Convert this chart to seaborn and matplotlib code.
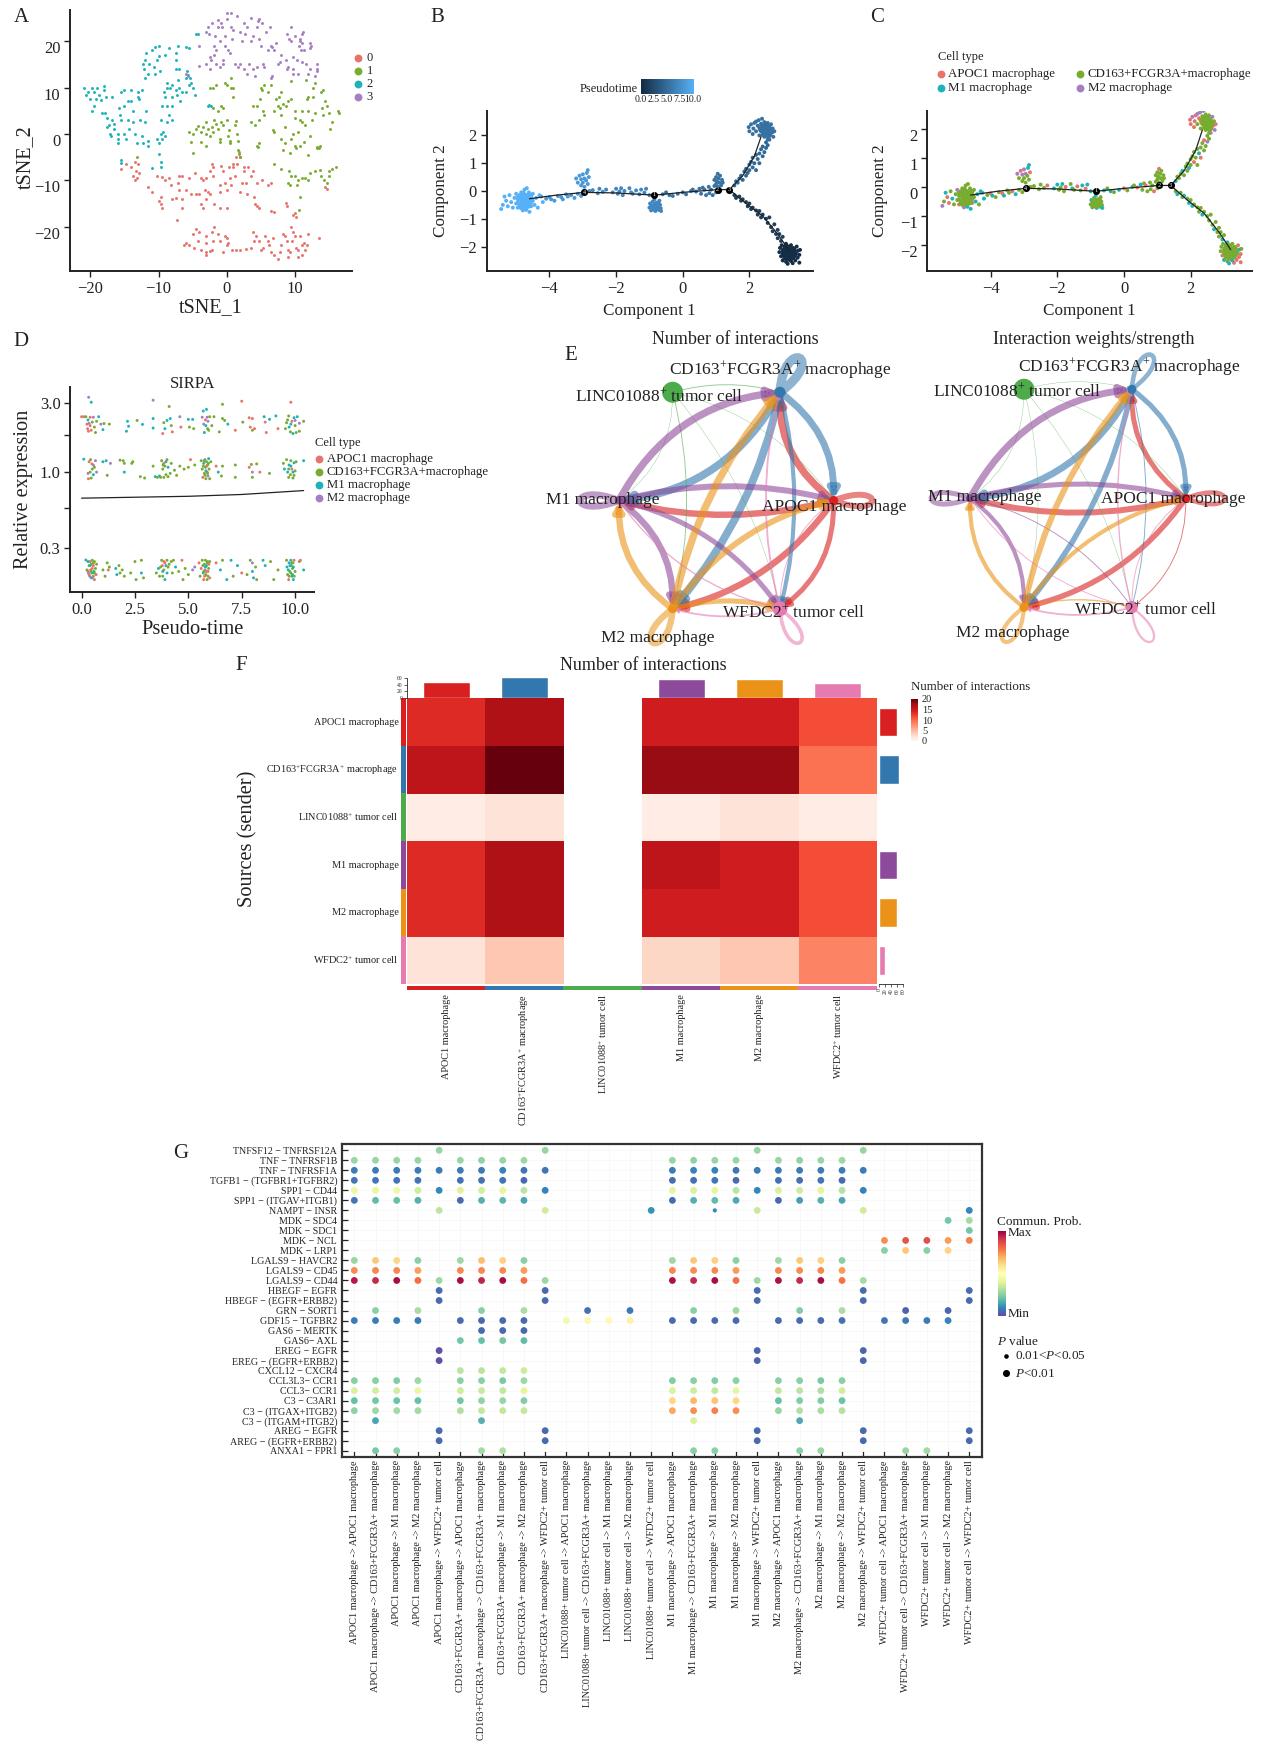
import numpy as np
import pandas as pd
import matplotlib
matplotlib.use("Agg")
import matplotlib.pyplot as plt
import seaborn as sns
from matplotlib.colors import LinearSegmentedColormap, ListedColormap
from matplotlib.patches import FancyArrowPatch, PathPatch
from matplotlib.path import Path

W, H = 1271, 1748

# ---- panel A, tSNE points per cluster
tsne_0 = [(-15.5,-7.5),(-14.8,-6.5),(-14,-7),(-13.5,-6),(-13,-6.5),(-13.3,-8),(-13.8,-9),(-13.2,-9.5),(-12.8,-8.5),(-13.5,-10),(-11.5,-11.5),(-11,-12.5),(-10.2,-9),(-9.5,-9.2),(-9.7,-13.5),(-10,-14.5),(-9.6,-15),(-9.5,-16),(-9,-10),(-8.5,-9.5),(-8.2,-11),(-8,-14),(-7.5,-13.8),(-7,-9),(-7.2,-10.5),(-7,-12),(-6.5,-14),(-6.5,-16),(-7.3,-18.5),(-6,-12),(-6.5,-9),(-5.5,-9.5),(-5.2,-13),(-4.5,-13),(-4.6,-8.5),(-3.8,-9.5),(-4,-13),(-3.8,-15),(-3.5,-16),(-3.5,-10),(-3,-9.5),(-3.2,-12),(-3,-14),(-2.7,-12.5),(-2.5,-8),(-2,-7),(-2.2,-6.5),(-2,-9),(-2.5,-13),(-1.8,-15),(-1,-11),(-1,-12.5),(-1,-16),(-0.8,-6.8),(-0.5,-8),(-0.3,-10.5),(0,-12),(0,-16),(0.3,-7),(0.5,-9.5),(0.6,-11),(0.9,-6.5),(1,-7),(1.2,-9),(1.3,-5),(1.5,-6.5),(1.8,-3.8),(2,-5),(2.2,-10.5),(2,-12.5),(2.5,-8),(2.6,-7),(2.8,-10.5),(3,-13),(3.2,-7),(3.5,-9),(3.8,-8),(4,-13.5),(4.2,-15),(4.5,-10.5),(4.5,-15.5),(4.7,-16),(5.2,-10),(6,-11),(6.5,-10.5),(6.5,-16.5),(7,-16.8),(8.7,-14.8),(8.9,-15.5),(9.7,-17.5),(10,-17),(10.2,-17.8),(14.5,-11.5),(14.8,-11.8),
          (-6.3,-23.8),(-6,-23.5),(-5.5,-24),(-5,-21.5),(-4.5,-20.5),(-4.8,-24.5),(-4,-21),(-4.2,-23),(-3.8,-25),(-3,-22),(-3,-23.5),(-3,-25.5),(-3,-26),(-2.5,-25.2),(-2.2,-25),(-2.2,-21),(-2,-23),(-1.8,-20),(-1.2,-21.5),(-1,-23),(-0.5,-25.5),(-.3,-22),(0,-22.5),(0,-24),(.2,-23.5),(.8,-25),(1.4,-25),(2,-25),(2.8,-24.8),(3.5,-24.5),(3.8,-21),(4.3,-22),(4,-23),(4.8,-23),(5,-25),(5.3,-24.5),(5.7,-22),(6,-23),(6.2,-24),(6.5,-25.5),(6.8,-22.5),(7,-26),(7.5,-27),(7.8,-25.5),(8,-24),(8.3,-21.5),(8.5,-22),(8.8,-23),(9,-25),(9,-26.5),(9.3,-25.5),(9.5,-20),(9.6,-23),(9.8,-21),(10,-22),(10.2,-24.5),(10.5,-26.5),(10.5,-25),(10.8,-22),(11,-24),(11,-26),(11.3,-23.5),(11.5,-25),(11.8,-24),(12,-21.5),(13.5,-22.5)]
tsne_1 = [(-5.5,0.5),(-5.3,-1.7),(-5,0),(-5,-4),(-4.5,1),(-4.2,1.8),(-3.8,-1.8),(-3.8,0.5),(-3.5,1.5),(-3,2.5),(-3,0),(-3,-2.5),(-2.7,1),(-2.4,-0.5),(-2.5,10),(-2.2,1.5),(-2,10),(-2,5.5),(-2,0.5),(-1.8,3),(-1.5,2.2),(-1.5,10.5),(-1.3,5),(-1.2,1),(-1,-1.8),(-1,-1),(-0.8,6),(-.8,2.5),(-.5,5.5),(-.5,2),(-.3,11),(0,10.5),(0,3),(0.2,-.5),(.3,.8),(.5,-1.5),(.5,-2),(.6,12),(.7,10),(1,10),(1,8),(1.2,2),(1.3,2.8),(1.5,0),(1.6,-1.5),(1.8,-4.3),(2,-5),(1.6,-3.5),(3.5,2.5),(3.9,6),(4.2,2),(4.5,6),(4.7,3),(4.8,-2),(4.5,-2.5),(4.6,-2.8),(4.9,7.5),(5,10),(5.2,9.5),(5.3,5),(5.5,4),(5.5,10.5),(6,9),(6.5,10.5),(6.8,0.8),(7,0.5),(7,5),(7.2,7.5),(7.5,6),(7.7,8),(7.8,5.5),(8,4),(8,9),(8.3,6.5),(8.5,1.5),(8,-1),(8.2,-3.5),(8.5,-2),(8.7,6),(9,7),(9.3,-4),(9.5,7.5),(9.5,-1),(9.7,0),(10,-2.5),(10,3.5),(10,5),(10.2,-3),(10.5,0.5),(10.7,3),(10.8,-2.5),(11,2.5),(11,5),(11.3,-1.8),(11.5,2),(11.8,7.5),(12,8),(11.9,-4.5),(12,5),(12.3,-.5),(12.5,3),(12.7,8),(13,11),(13,4.5),(13.2,-3),(13.5,-3),(13.7,-2.5),(13.8,9),(14,5.5),(14.2,4),(14.5,7),(14.7,6),(15,4.5),(15.2,1),(15.5,2.5),(14.2,9.5),(12.7,10),(11.6,11.7),(9.5,11.5),(16.5,4.5),(16.4,5),(13.2,-2.8),(9.2,-8),(9.3,-11),(9,-10.5),(9.5,-9),(10,-9),(10.3,-11),(10.5,-10),(11,-9.5),(11.5,-9.5),(12,-10),(12.3,-8.5),(13,-8),(13.7,-7.8),(13.8,-9),(14.3,-10),(14.7,-10.5),(15,-9),(15,-8),(15.5,-7.5),(16,-7),(7,-6.5),(8,-7.5),(10.7,-13.5),(10.6,-16.3),(-13.2,-5)]
tsne_2 = [(-21,9.8),(-20.7,8.5),(-20.3,9),(-20,7.5),(-19.8,10),(-19.5,9),(-19.5,6),(-19.7,5),(-19.2,7.5),(-19,10),(-18.7,8.5),(-18.5,7.3),(-18.3,4.5),(-18,9.5),(-18,10.3),(-17.7,8),(-16.9,8),(-17.8,4.5),(-17.6,3.5),(-17.3,2),(-17.5,1.5),(-17.2,0),(-17,-0.5),(-16.8,3),(-16.5,2.2),(-16.5,1),(-16,-1),(-16,-2),(-16,0),(-15.8,5.5),(-15.5,9),(-15.7,4),(-15.5,3),(-15,9.5),(-15,6),(-15,0),(-14.8,-1),(-14.5,7),(-14.5,3),(-14.4,1),(-14,9.5),(-14,7),(-13.8,5),(-13.7,2.5),(-13.5,0),(-13.2,-2),(-13,8),(-13,9),(-12.8,7.5),(-12.7,3),(-12.5,9.5),(-12.5,-0.5),(-12.3,-2),(-12,2.5),(-11.8,5),(-11.6,-1.5),(-11.5,-2.5),(-12.2,14),(-12.3,15),(-12,16),(-11.8,17.5),(-12,12),(-11.5,13),(-11.4,15),(-11,18),(-10.5,18.7),(-10.7,14.5),(-10.5,13),(-10.3,16),(-10,16.8),(-10,19),(-9.8,13.5),(-10.2,-1),(-10,-2),(-9.7,0),(-9.3,0.5),(-9.5,-1),(-9,-0.5),(-9.7,3),(-9.5,6),(-9.2,9),(-9,8),(-8.8,6),(-8.7,2.5),(-8.5,4),(-8.5,18.5),(-9.9,-4.3),(-9.7,-7),(-11,-7.3),(-15.5,-5.5),(-15.5,-6.2),(-9.7,-6),(-8.3,10),(-8,8),(-8,6),(-8,3),(-7.5,17.5),(-7.5,16),(-7.5,14),(-7.4,9.5),(-7.3,8.5),(-7.2,19),(-7,14),(-6.8,7),(-6.5,9),(-6,9),(-6,18.7),(-5.8,13.5),(-5.7,12.8),(-5.5,10.5),(-5.3,11),(-5,10),(-4.7,8.5),(-5.5,18.5),(-2.8,6),(-2.6,6.3),(-2.3,6),(-4.5,21.5),(-4.2,21.5),(-9,17),(-8.8,11),(-8.7,10),(-8,10.5),(-7,10),(-7.2,11.7),(-6,12),(-5.4,12)]
tsne_3 = [(-6,13),(-5.7,12.5),(-4.1,19),(-4,14.7),(-3,15),(-3,22),(-2.7,23),(-2.5,14),(-2.3,16),(-2.6,21.5),(-2.2,24),(-2.5,16.5),(-1.8,17),(-1.8,19),(-1.7,21),(-1.5,15),(-1.5,18),(-1.3,24.5),(-1.2,23),(-1,14.5),(-1,20),(-.8,24),(-.7,23),(-.6,16),(-.5,15),(-.3,19),(-.2,21),(0,26),(0,24.8),(0.2,18),(0.5,17.5),(.6,26),(.7,23),(.8,20.5),(1,22.5),(1.2,15),(1.5,25.5),(1.7,14.5),(1.9,22),(2,15),(2.2,20),(2.5,14),(2.6,24),(2.7,21.5),(3,13),(3,23),(3.3,15),(3.5,25),(3.5,20),(3.8,21),(3.9,14),(4.2,12.5),(4.4,14.5),(4.5,23),(4.6,24.3),(4.7,24.7),(4.8,20.5),(5,19),(5.2,24),(5.3,15),(5.5,14.5),(5.8,22),(6,18),(6.3,23),(6.5,12),(6.7,12.5),(6.5,19),(6.7,18.7),(7,18),(7.2,19.5),(7.5,15),(7.8,15.5),(8,17),(8.7,16),(8.8,14),(8.9,21.5),(9,14.5),(9.2,20.5),(9.4,23),(9.5,20),(9.7,16.5),(9.8,14),(9.8,13),(10,21),(10.3,16),(10.5,13),(10.6,19),(10.7,20),(10.8,20.5),(10.9,18),(11,15.5),(11,21.5),(11.1,19.5),(11.2,22),(11.3,18),(11.7,15),(12,13),(12.2,14),(12.3,18.5),(12.2,19.5),(12.4,19),(13.2,14),(13.3,15),(13.3,13.5),(13,12.5)]

# ---- panels B and C, trajectory points (x, y, cell type index) per stretch
traj_down_end = [(2.9,-2.2,1),(2.92,-2.05,1),(2.95,-2.35,0),(2.97,-1.95,1),(3,-2.15,1),(3,-2.5,2),(3.02,-2.3,1),(3.05,-2.0,1),(3.05,-2.42,1),(3.08,-2.2,1),(3.1,-1.9,2),(3.1,-2.55,1),(3.12,-2.1,1),(3.15,-2.35,1),(3.15,-2.62,2),(3.18,-2,1),(3.2,-2.2,1),(3.2,-2.48,0),(3.22,-2.3,1),(3.25,-1.95,1),(3.25,-2.1,1),(3.28,-2.4,1),(3.3,-2.25,1),(3.3,-2.6,0),(3.32,-2.05,1),(3.35,-2.35,0),(3.36,-2.15,1),(3.38,-2.5,0),(3.4,-2.25,1),(3.42,-2.0,0),(3.45,-2.4,0),(3.46,-2.15,2),(3.5,-2.3,0),(3.5,-2.58,0),(3.52,-2.12,1)]
traj_down = [(1.55,-.15,1),(1.6,-.25,2),(1.7,-.2,1),(1.75,-.35,1),(1.8,-.3,2),(1.9,-.4,1),(1.95,-.55,2),(2,-.45,1),(2.05,-.65,2),(2.1,-.6,1),(2.2,-.7,1),(2.25,-.85,1),(2.3,-.72,1),(2.35,-.95,2),(2.4,-.85,1),(2.5,-1,1),(2.55,-1.15,1),(2.6,-.95,1),(2.65,-1.3,1),(2.7,-1.45,2),(2.75,-1.2,1),(2.8,-1.55,1),(2.85,-1.4,1),(2.85,-1.7,1),(2.9,-1.55,1),(2.95,-1.8,2),(3,-1.65,1)]
traj_up = [(1.55,.2,2),(1.6,.35,1),(1.65,.3,1),(1.7,.45,1),(1.75,.55,2),(1.8,.4,1),(1.85,.7,1),(1.9,.8,1),(1.9,.55,1),(1.95,.65,2),(2,.95,1),(2,.75,1),(2.05,1.05,1),(2.1,.85,0),(2.1,1.2,1),(2.15,1,1),(2.2,1.3,1),(2.2,.75,1),(2.25,1.15,2),(2.3,1.35,1),(2.3,1,0),(2.35,1.5,1),(2.4,1.25,1),(2.4,1.6,0),(2.45,1.4,1),(2.5,1.75,1),(2.5,1.55,3),(2.55,1.65,1),(2.6,1.85,3)]
traj_up_end = [(1.98,2.3,0),(2,2.15,0),(2.05,2.4,3),(2.1,2.05,0),(2.12,2.25,0),(2.15,2.45,0),(2.2,2.5,3),(2.2,2.15,1),(2.25,2.35,0),(2.28,2.55,3),(2.3,2.0,1),(2.32,2.2,0),(2.35,2.42,1),(2.38,2.6,3),(2.4,2.1,1),(2.42,2.3,1),(2.45,1.95,1),(2.45,2.48,1),(2.5,2.2,1),(2.5,2.35,1),(2.52,2.05,1),(2.55,2.45,1),(2.55,1.85,1),(2.58,2.15,1),(2.6,2.3,1),(2.62,2,1),(2.65,2.4,3),(2.68,2.1,0),(2.7,2.25,1),(2.72,1.95,3),(2.75,2.15,0),(2.4,2.25,1),(2.48,2.1,1),(2.35,2.32,1),(2.52,2.28,1),(2.6,2.1,1)]
traj_near_fork = [(.95,.4,1),(1,.25,1),(1,.5,1),(1.02,.35,1),(1.05,.62,0),(1.05,.15,1),(1.08,.45,1),(1.1,.3,1),(1.12,.55,1),(1.15,.2,1),(1.18,.4,1),(1.2,.3,1),(-.6,-.12,2),(-.5,-.05,1),(-.4,-.15,2),(-.3,-.18,1),(-.15,-.1,2),(0,-.05,0),(.1,-.12,1),(.25,0,2),(.3,.05,1),(.4,-.02,0),(.5,.08,2),(.55,-.1,1),(.6,.12,1),(.65,.05,0),(.7,-.15,1),(.78,.15,1),(.8,-.08,1),(.85,.05,1),(.9,-.15,0),(.95,.18,1),(1,-.05,1)]
traj_mid = [(-1,-.6,1),(-.98,-.45,2),(-.95,-.7,1),(-.92,-.55,1),(-.9,-.38,1),(-.88,-.65,1),(-.85,-.5,1),(-.85,-.3,2),(-.82,-.72,2),(-.8,-.6,1),(-.78,-.42,1),(-.75,-.55,1),(-.72,-.68,1),(-.7,-.35,1),(-.68,-.5,1),(-.66,-.62,1),(-.65,-.72,2),(-.95,-.5,1),(-.9,-.6,1),(-.85,-.68,1),(-.82,-.45,1),(-.75,-.62,1),(-.72,-.45,1),(-2.8,0,1),(-2.7,.03,1),(-2.55,-.08,1),(-2.5,.08,1),(-2.4,-.03,1),(-2.3,.05,0),(-2.1,-.05,2),(-2,.08,2),(-1.95,-.1,1),(-1.9,-.02,1),(-1.85,.1,2),(-1.8,-.15,1),(-1.75,0,0),(-1.6,.1,1),(-1.55,-.05,2),(-1.5,-.1,1),(-1.4,.02,0),(-1.3,-.12,1),(-1.25,.05,2),(-1.15,-.06,0),(-1.1,.08,2),(-1,-.15,2)]
traj_spur = [(-3.2,.45,3),(-3.15,.3,1),(-3.1,.55,0),(-3.05,.2,1),(-3.05,.42,3),(-3,.6,3),(-3,.3,1),(-2.95,.15,1),(-2.95,.45,3),(-2.9,.38,1),(-2.88,.65,2),(-2.85,.25,1),(-2.85,.75,2),(-2.82,.5,0),(-4.25,-.2,2),(-4.1,-.28,1),(-4,-.22,0),(-3.95,-.3,2),(-3.85,-.35,1),(-3.75,-.18,1),(-3.65,-.22,0),(-3.6,-.3,2),(-3.5,-.12,1),(-3.45,-.2,1),(-3.35,-.15,0),(-3.25,-.25,2),(-3.15,-.1,1),(-3.05,-.18,1)]
traj_left = [(-5.45,-0.65,3),(-5.4,-.5,1),(-5.35,-.2,2),(-5.3,-.35,0),(-5.25,-.55,0),(-5.2,-.15,1),(-5.15,-.4,2),(-5.1,-.6,1),(-5.05,-.25,1),(-5,-.1,3),(-5,-.45,1),(-4.95,-.6,0),(-4.95,-.3,1),(-4.9,-.15,1),(-4.9,-.5,1),(-4.85,-.05,1),(-4.85,-.35,1),(-4.85,-.62,1),(-4.8,-.2,1),(-4.8,-.45,1),(-4.8,-.7,3),(-4.78,-.3,1),(-4.75,.05,1),(-4.75,-.12,1),(-4.75,-.55,1),(-4.72,-.38,1),(-4.7,-.25,1),(-4.7,-.48,1),(-4.7,-.68,2),(-4.68,.1,1),(-4.68,-.15,1),(-4.65,-.35,1),(-4.65,-.58,1),(-4.62,-.05,1),(-4.6,-.28,1),(-4.6,-.45,1),(-4.6,-.75,2),(-4.55,-.18,1),(-4.55,-.55,0),(-4.5,-.35,1),(-4.5,-.1,1),(-4.45,-.5,2),(-4.4,-.25,2),(-4.35,-.6,1),(-4.3,-.15,2),(-4.2,-.4,2)]
# tight cores of the three end clusters, drawn last so green sits on top in panel C
core_left = [(-4.95,-.2,1),(-4.95,-.42,1),(-4.9,-.3,1),(-4.9,-.58,1),(-4.85,-.22,1),(-4.85,-.45,1),(-4.82,-.12,1),(-4.8,-.35,1),(-4.8,-.55,1),(-4.78,-.05,1),(-4.75,-.25,1),(-4.75,-.42,1),(-4.75,-.62,1),(-4.72,-.15,1),(-4.7,-.32,1),(-4.7,-.55,1),(-4.68,-.42,1),(-4.65,-.2,1),(-4.65,-.5,1),(-4.62,-.35,1),(-4.6,-.12,1),(-4.6,-.55,1),(-4.58,-.25,1),(-4.55,-.42,1),(-4.52,-.3,1)]
core_up = [(2.3,2.28,1),(2.35,2.15,1),(2.38,2.38,1),(2.4,2.02,1),(2.42,2.18,1),(2.45,2.3,1),(2.45,2.08,1),(2.48,2.4,1),(2.5,1.98,1),(2.5,2.15,1),(2.5,2.28,1),(2.53,2.38,1),(2.55,2.08,1),(2.55,2.22,1),(2.58,1.95,1),(2.58,2.32,1),(2.6,2.18,1),(2.62,2.05,1),(2.62,2.25,1),(2.65,2.15,1)]
core_down = [(3,-2.25,1),(3.02,-2.1,1),(3.05,-2.32,1),(3.08,-2.05,1),(3.08,-2.4,1),(3.1,-2.15,1),(3.1,-2.28,1),(3.13,-1.98,1),(3.13,-2.45,1),(3.15,-2.1,1),(3.15,-2.25,1),(3.18,-2.38,1),(3.2,-2.05,1),(3.2,-2.3,1),(3.22,-2.15,1),(3.22,-2.42,1),(3.25,-2.25,1),(3.25,-2.52,2),(3.28,-2.08,1),(3.28,-2.32,1),(3.3,-2.18,1),(3.32,-2.42,1),(3.35,-2.25,1),(3.35,-2.1,1),(3.38,-2.3,1)]
traj_groups = [traj_down_end, traj_down, traj_up, traj_up_end, traj_near_fork, traj_mid, traj_spur, traj_left, core_left, core_up, core_down]
traj_time = [0.2, 1.6, 4.6, 5.2, 5.4, 6.8, 8.2, 10.0, 10.0, 5.2, 0.2]

main_x = [-4.6, -3.8, -2.95, -2, -0.85, 0, 1.05, 1.4]
main_y = [-0.28, -0.15, -0.05, -0.07, -0.15, -0.05, 0.05, 0.05]
up_x = [1.4, 1.8, 2.15, 2.35]
up_y = [0.05, 0.55, 1.25, 1.95]
down_x = [1.4, 1.9, 2.4, 2.85, 3.2]
down_y = [0.05, -0.45, -0.9, -1.55, -2.15]
fork_x = [-2.95, -0.85, 1.05, 1.4]
fork_y = [-0.05, -0.13, 0.05, 0.05]
fork_id = ["4", "1", "2", "3"]

# ---- panel D, SIRPA expression (pseudotime, expression, cell type index)
sirpa_low = [(.2,.246,2),(.3,.205,0),(.32,.2,3),(.35,.225,1),(.38,.19,3),(.4,.24,0),(.42,.21,0),(.45,.185,2),(.45,.23,1),(.48,.2,2),(.5,.245,1),(.5,.215,0),(.55,.19,1),(.55,.225,0),(.58,.205,2),(.6,.24,1),(.6,.18,0),(.65,.215,1),(.68,.195,0),(.7,.23,1),(1,.21,1),(1.1,.19,1),(1.2,.235,1),(1.25,.21,0),(1.3,.22,1),(1.6,.215,2),(1.65,.195,2),(1.8,.2,1),(1.75,.225,1),(1.9,.21,1),(2,.19,1),(2.3,.2,1),(2.5,.24,1),(2.55,.18,1),(2.8,.245,1),(2.8,.2,2),(2.9,.185,1),(3.5,.2,1),(3.6,.215,2),(3.65,.19,1),(3.75,.245,1),(3.78,.225,0),(3.8,.205,2),(3.85,.24,0),(3.9,.18,2),(3.95,.225,2),(4,.245,1),(4.1,.23,1),(4.2,.24,1),(4.25,.2,1),(4.3,.245,1),(4.4,.22,2),(4.55,.205,1),(4.7,.245,0),(4.75,.18,1),(4.85,.215,1),(5,.195,1),(5.2,.21,3),(5.3,.22,3),(5.5,.235,0),(5.55,.19,1),(5.6,.215,0),(5.65,.245,1),(5.7,.2,2),(5.72,.18,0),(5.75,.23,1),(5.78,.21,3),(5.8,.245,1),(5.82,.195,1),(5.85,.225,2),(5.88,.18,1),(5.9,.24,1),(5.92,.205,0),(5.95,.215,1),(6,.185,0),(6,.24,1),(6.3,.235,0),(6.5,.21,2),(6.6,.245,1),(6.8,.18,2),(7,.245,2),(7.1,.19,1),(7.3,.225,2),(7.5,.2,0),(7.75,.195,1),(7.9,.245,1),(8,.235,3),(8,.205,2),(8.05,.185,2),(8.15,.22,1),(8.2,.18,1),(8.5,.245,2),(8.6,.225,2),(8.85,.24,1),(9,.18,1),(9.2,.21,1),(9.6,.245,1),(9.62,.22,2),(9.65,.195,1),(9.7,.18,0),(9.72,.235,2),(9.75,.205,1),(9.8,.245,2),(9.82,.225,1),(9.85,.19,2),(9.88,.215,1),(9.9,.235,1),(9.92,.18,2),(9.95,.245,0),(10,.205,1),(10.2,.24,1),(10.25,.245,0),(10.4,.21,2)]
sirpa_mid = [(.1,1.23,2),(.3,.98,3),(.32,.9,0),(.35,1.18,0),(.4,1.0,1),(.42,1.22,1),(.45,.91,1),(.48,1.14,0),(.5,1.05,1),(.55,1.12,3),(.55,.96,2),(.6,1.08,1),(.65,1.2,3),(.7,1.0,3),(1,1.18,2),(1.15,1.2,2),(1.2,.95,1),(1.35,1.15,3),(1.8,1.21,1),(1.95,1.2,1),(2,1.15,1),(2,1.0,2),(2.35,1.15,1),(2.4,1.18,1),(2.75,.93,1),(2.95,.91,1),(3.35,1.1,1),(3.45,.93,2),(3.55,.92,1),(3.65,.94,2),(3.75,1.2,1),(3.8,1.05,1),(3.85,1.15,0),(3.85,.92,1),(3.9,1.1,1),(3.95,.96,1),(4,1.22,1),(4.05,1.08,2),(4.15,.98,1),(4.2,1.15,1),(4.35,1.03,1),(4.45,.95,1),(4.6,1.1,1),(4.8,1.05,1),(5,1.08,1),(5.1,1.22,0),(5.3,1.12,1),(5.6,1.2,1),(5.65,1.05,1),(5.68,.92,0),(5.72,1.15,2),(5.75,.98,1),(5.78,1.22,3),(5.8,1.08,1),(5.82,.9,1),(5.85,1.18,1),(5.88,1.0,0),(5.9,1.12,1),(5.92,.94,3),(5.95,1.24,2),(5.97,1.05,1),(6.0,.9,1),(6.05,1.18,1),(6.3,1.1,0),(6.4,1.0,2),(6.55,.94,1),(6.6,1.1,1),(7.2,1.12,1),(7.2,.92,1),(7.85,1.08,0),(7.95,1.13,1),(8,.92,1),(8,1.0,3),(8.2,1.14,1),(8.35,1.0,0),(8.8,.98,1),(9.45,1.15,1),(9.5,1.05,2),(9.6,1.22,1),(9.65,1.0,2),(9.7,.92,1),(9.72,1.12,2),(9.78,.96,1),(9.8,1.2,1),(9.85,1.05,0),(9.9,.91,1),(9.95,1.16,2),(10,1.02,1),(10.05,1.18,1),(10.4,1.2,2)]
sirpa_high = [(0,2.42,0),(.1,2.42,0),(.2,2.42,1),(.25,2.15,0),(.28,2.0,0),(.3,2.3,2),(.32,1.92,0),(.35,2.18,3),(.4,2.4,0),(.4,2.1,0),(.45,1.95,0),(.5,2.22,1),(.55,2.4,3),(.6,2.05,1),(.65,1.88,1),(.7,2.25,1),(.8,2.42,2),(.9,2.15,3),(1,1.97,2),(1.05,2.17,1),(1.3,2.15,1),(2.15,2.25,2),(2.2,2.08,2),(2.1,1.92,2),(2.6,2.28,1),(2.85,2.14,2),(3.35,2.35,2),(3.35,2.02,2),(3.8,1.85,0),(3.85,2.2,1),(3.9,2.0,2),(4,2.28,2),(4.15,2.35,2),(4.2,2.1,1),(4.25,1.9,0),(4.6,2.42,3),(4.65,2.05,0),(5,2.32,2),(5.05,2.05,1),(5.2,2.32,2),(5.25,2.0,1),(5.65,2.4,3),(5.7,2.65,2),(5.72,2.15,3),(5.75,1.88,2),(5.8,2.3,0),(5.82,2.1,2),(5.85,2.72,2),(5.88,2.4,3),(5.9,2.0,1),(5.92,2.25,3),(5.95,1.95,1),(6,2.42,1),(6.1,2.1,1),(6.2,2.42,1),(6.45,1.9,1),(6.6,2.35,1),(6.7,2.28,1),(6.85,2.15,2),(7.2,1.95,0),(7.55,2.22,1),(7.85,2.38,0),(7.9,2.05,0),(8,2.35,0),(8,1.95,1),(8.1,2.0,0),(8.55,2.42,2),(8.6,2.22,0),(8.65,1.88,0),(8.8,2.32,2),(9.1,2.45,2),(9.2,2.0,0),(9.55,2.0,1),(9.6,2.2,1),(9.65,2.3,1),(9.7,2.45,1),(9.72,2.05,2),(9.78,1.9,1),(9.8,2.15,2),(9.85,2.25,0),(9.9,1.85,2),(9.95,2.38,2),(10,2.1,1),(10,2.28,3),(10.05,1.88,1),(10.1,2.42,2),(10.2,1.92,1),(10.2,2.18,3),(10.4,2.25,1)]
sirpa_top = [(.33,3.3,3),(.45,3.05,2),(3.35,3.15,3),(4.1,2.85,1),(6.6,2.95,1),(7.5,3.1,0),(9.8,3.05,0)]
sirpa_dense = [(.25,.21,1),(.3,.24,2),(.35,.195,0),(.4,.225,2),(.45,.205,1),(.5,.185,3),(.55,.235,1),(.6,.2,1),(3.7,.22,1),(3.8,.19,1),(3.85,.21,1),(3.9,.235,0),(4,.2,2),(4.05,.22,1),(5.68,.225,1),(5.72,.205,1),(5.76,.19,0),(5.8,.22,2),(5.84,.205,0),(5.88,.235,1),(5.92,.19,1),(5.96,.23,0),(9.68,.21,2),(9.72,.19,1),(9.76,.225,2),(9.8,.2,1),(9.84,.235,1),(9.88,.195,2),(9.92,.22,2),(9.96,.19,1),(5.7,1.1,1),(5.74,1.2,1),(5.78,.95,1),(5.82,1.02,2),(5.86,1.1,0),(5.9,.98,1),(5.94,1.15,1),(3.7,.92,1),(3.82,1.12,1),(3.95,1.18,2),(4.05,.93,1),(9.7,1.05,1),(9.8,1.1,2),(9.9,1.0,2),(9.95,.95,1)]
fit_time = [0, 2.5, 5, 7.5, 10.4]
fit_expr = [0.66, 0.67, 0.68, 0.70, 0.745]

# ---- panels E and F, cell chat matrices (row sends, column receives)
cell_short = ["APOC1", "CD163", "LINC", "M1", "M2", "WFDC2"]
cell_labels = ["APOC1 macrophage", "CD163$^{+}$FCGR3A$^{+}$ macrophage", "LINC01088$^{+}$ tumor cell",
               "M1 macrophage", "M2 macrophage", "WFDC2$^{+}$ tumor cell"]
cell_colors = ["#D7201F", "#3277AE", "#4DAB4B", "#8E4A9A", "#EA9318", "#E57BB0"]
count_matrix = [[13, 16, 0, 14, 14, 11],
                [15, 20, 0, 17, 17, 9],
                [1, 2, 0, 1, 2, 1],
                [13, 16, 0, 15, 14, 11],
                [13, 16, 0, 14, 14, 11],
                [2, 4, 0, 3, 4, 8]]
weight_matrix = [[10, 11, 0, 13, 12, 2],
                 [11, 10, 0, 15, 12, 2],
                 [1, 1, 0, 1, 1, 1],
                 [11, 15, 0, 11, 9, 2],
                 [9, 13, 0, 9, 9, 3],
                 [2, 3, 0, 2, 4, 5]]
node_size_left = [9, 11, 21, 8, 9, 15]
node_size_right = [9, 9, 21, 8, 9, 12]
top_bar_values = [50, 63, 1, 57, 58, 45]
right_bar_values = [59, 67, 5, 59, 59, 21]
count_ticks = [20, 15, 10, 5, 0]

# ---- panel G
pair_names = ["TNFSF12 − TNFRSF12A", "TNF − TNFRSF1B", "TNF − TNFRSF1A", "TGFB1 − (TGFBR1+TGFBR2)", "SPP1 − CD44",
              "SPP1 − (ITGAV+ITGB1)", "NAMPT − INSR", "MDK − SDC4", "MDK − SDC1", "MDK − NCL", "MDK − LRP1",
              "LGALS9 − HAVCR2", "LGALS9 − CD45", "LGALS9 − CD44", "HBEGF − EGFR", "HBEGF − (EGFR+ERBB2)",
              "GRN − SORT1", "GDF15 − TGFBR2", "GAS6 − MERTK", "GAS6− AXL", "EREG − EGFR", "EREG − (EGFR+ERBB2)",
              "CXCL12 − CXCR4", "CCL3L3− CCR1", "CCL3− CCR1", "C3 − C3AR1", "C3 − (ITGAX+ITGB2)",
              "C3 − (ITGAM+ITGB2)", "AREG − EGFR", "AREG − (EGFR+ERBB2)", "ANXA1 − FPR1"]
senders = ["APOC1 macrophage", "CD163+FCGR3A+ macrophage", "LINC01088+ tumor cell", "M1 macrophage", "M2 macrophage", "WFDC2+ tumor cell"]
receivers = ["APOC1 macrophage", "CD163+FCGR3A+ macrophage", "M1 macrophage", "M2 macrophage", "WFDC2+ tumor cell"]
pair_probs = [
    {4:.27, 9:.27, 19:.27, 24:.27},
    {0:.27, 1:.27, 2:.27, 3:.27, 5:.27, 6:.26, 7:.27, 8:.28, 15:.27, 16:.26, 17:.27, 18:.27, 20:.27, 21:.26, 22:.27, 23:.28},
    {0:.08, 1:.08, 2:.08, 3:.08, 4:.08, 5:.08, 6:.08, 7:.09, 8:.07, 9:.07, 15:.08, 16:.09, 17:.09, 18:.07, 19:.08, 20:.08, 21:.08, 22:.08, 23:.08, 24:.08},
    {0:.07, 1:.07, 2:.07, 3:.07, 5:.06, 6:.06, 7:.07, 8:.05, 15:.06, 16:.06, 17:.07, 18:.05, 20:.06, 21:.06, 22:.07, 23:.05},
    {0:.43, 1:.42, 2:.43, 3:.36, 4:.1, 5:.39, 6:.37, 7:.41, 8:.33, 9:.09, 15:.4, 16:.38, 17:.41, 18:.33, 19:.1, 20:.38, 21:.36, 22:.4, 23:.32, 24:.09},
    {0:.07, 1:.19, 2:.2, 3:.17, 5:.05, 6:.17, 7:.18, 8:.15, 15:.05, 16:.17, 17:.19, 18:.16, 20:.05, 21:.14, 22:.17, 23:.15},
    {4:.33, 9:.36, 14:.12, 17:.1, 19:.35, 24:.36, 29:.1},
    {28:.22, 29:.29},
    {29:.22},
    {25:.75, 26:.85, 27:.86, 28:.73, 29:.77},
    {25:.25, 26:.65, 27:.25, 28:.62},
    {0:.27, 1:.65, 2:.62, 3:.25, 5:.28, 6:.67, 7:.63, 8:.25, 15:.28, 16:.65, 17:.63, 18:.25, 20:.28, 21:.65, 22:.63, 23:.25},
    {0:.75, 1:.76, 2:.76, 3:.72, 5:.76, 6:.76, 7:.76, 8:.73, 15:.76, 16:.75, 17:.76, 18:.73, 20:.76, 21:.75, 22:.76, 23:.73},
    {0:.96, 1:.93, 2:.98, 3:.8, 4:.28, 5:.98, 6:.94, 7:.98, 8:.8, 9:.28, 15:.97, 16:.93, 17:.98, 18:.8, 19:.28, 20:.97, 21:.93, 22:.98, 23:.79, 24:.29},
    {4:.05, 9:.05, 19:.05, 24:.05, 29:.05},
    {4:.05, 9:.05, 19:.05, 24:.05, 29:.05},
    {1:.25, 3:.3, 6:.25, 8:.3, 11:.06, 13:.07, 16:.25, 18:.28, 21:.24, 23:.3, 26:.03, 28:.04},
    {0:.08, 1:.08, 2:.08, 3:.08, 5:.05, 6:.05, 7:.05, 8:.05, 10:.45, 11:.52, 12:.52, 13:.55, 15:.05, 16:.05, 17:.05, 18:.05, 20:.05, 21:.05, 22:.05, 23:.06, 25:.07, 26:.08, 27:.08, 28:.09},
    {6:.05, 7:.05, 8:.05},
    {5:.22, 6:.2, 7:.22, 8:.19},
    {4:.01, 19:.04, 24:.04},
    {4:.01, 19:.04, 24:.04},
    {5:.33, 6:.33, 7:.34, 8:.36},
    {0:.25, 1:.25, 2:.24, 3:.28, 5:.25, 6:.25, 7:.23, 8:.28, 15:.24, 16:.25, 17:.24, 18:.25, 20:.25, 21:.25, 22:.23, 23:.25},
    {0:.38, 1:.37, 2:.37, 3:.42, 5:.36, 6:.35, 7:.34, 8:.4, 15:.39, 16:.36, 17:.34, 18:.41, 20:.34, 21:.33, 22:.31, 23:.37},
    {0:.2, 1:.22, 2:.21, 3:.2, 5:.22, 6:.26, 7:.27, 8:.24, 15:.62, 16:.68, 17:.66, 18:.62, 20:.2, 21:.24, 22:.24, 23:.21},
    {0:.26, 1:.28, 2:.29, 3:.29, 5:.31, 6:.34, 7:.34, 8:.34, 15:.71, 16:.75, 17:.77, 18:.75, 20:.27, 21:.31, 22:.3, 23:.32},
    {1:.15, 6:.17, 16:.38, 21:.16},
    {4:.05, 9:.05, 19:.05, 24:.05, 29:.05},
    {4:.05, 9:.05, 19:.05, 24:.05, 29:.05},
    {1:.23, 2:.25, 6:.29, 7:.31, 16:.25, 17:.25, 21:.25, 22:.27, 26:.27, 27:.29},
]
small_dots = [(6, 17)]

ggplot_colors = ["#E8736B", "#77AC30", "#1EB3B8", "#A57FC2"]
type_names = ["APOC1 macrophage", "CD163+FCGR3A+macrophage", "M1 macrophage", "M2 macrophage"]
INK = "#222222"

sns.set_theme(style="white")
plt.rcParams["font.family"] = ["Liberation Serif", "DejaVu Serif"]
plt.rcParams["mathtext.fontset"] = "custom"
plt.rcParams["mathtext.rm"] = "Liberation Serif"
plt.rcParams["mathtext.it"] = "Liberation Serif:italic"
plt.rcParams["mathtext.bf"] = "Liberation Serif:bold"
plt.rcParams["text.color"] = INK

fig = plt.figure(figsize=(W / 100, H / 100), dpi=100, facecolor="white")


def add_ax(x0, y0, x1, y1):
    return fig.add_axes([x0 / W, 1 - y1 / H, (x1 - x0) / W, (y1 - y0) / H])


def style_open(ax, xticks, yticks, xlim, ylim, size=12, offset_y=False):
    ax.set_xlim(*xlim)
    ax.set_ylim(*ylim)
    ax.set_xticks(xticks)
    ax.set_yticks(yticks)
    sns.despine(ax=ax)
    for side in ["left", "bottom"]:
        ax.spines[side].set_linewidth(1.4)
        ax.spines[side].set_color(INK)
    # the white style switches ticks off
    ax.tick_params(axis="both", bottom=True, left=True, length=4, width=1, color=INK,
                   labelsize=size, labelcolor=INK, pad=3)
    ax.set_xlabel("")
    ax.set_ylabel("")
    if offset_y:
        for lab in ax.get_yticklabels():
            lab.set_verticalalignment("top")


def points_frame(groups, extra=None):
    rows = []
    for i, group in enumerate(groups):
        for x, y, t in group:
            rows.append((x, y, t, extra[i] if extra else 0.0))
    return pd.DataFrame(rows, columns=["x", "y", "type", "time"])


# A -----------------------------------------------------------------
ax = add_ax(70, 10, 352, 271)
for i, pts in enumerate([tsne_0, tsne_1, tsne_2, tsne_3]):
    arr = np.array(pts)
    sns.scatterplot(x=arr[:, 0], y=arr[:, 1], color=ggplot_colors[i], s=4.5, linewidth=0, ax=ax, legend=False)
style_open(ax, [-20, -10, 0, 10], [-20, -10, 0, 10, 20], (-23, 18.4), (-29.5, 26.7), offset_y=True)

# B -----------------------------------------------------------------
traj = points_frame(traj_groups, traj_time)
ax = add_ax(486.5, 110.7, 813, 271)
blues = LinearSegmentedColormap.from_list("pseudotime", ["#132B43", "#56B1F7"])
ax.plot(main_x, main_y, color="#222222", lw=0.9)
ax.plot(up_x, up_y, color="#222222", lw=0.9)
ax.plot(down_x, down_y, color="#222222", lw=0.9)
sns.scatterplot(data=traj, x="x", y="y", hue="time", palette=blues, hue_norm=(0, 10), s=8, linewidth=0, ax=ax, legend=False)
sns.scatterplot(x=fork_x, y=fork_y, color="black", s=26, linewidth=0, ax=ax, legend=False, zorder=5)
for fx, fy, fid in zip(fork_x, fork_y, fork_id):
    ax.text(fx, fy, fid, color="white", fontsize=4.5, ha="center", va="center", zorder=6)
style_open(ax, [-4, -2, 0, 2], [-2, -1, 0, 1, 2], (-5.89, 3.91), (-2.88, 2.89))

# C -----------------------------------------------------------------
ax = add_ax(927.3, 110.7, 1251.7, 271)
ax.plot(main_x, main_y, color="#222222", lw=0.9)
ax.plot(up_x, up_y, color="#222222", lw=0.9)
ax.plot(down_x, down_y, color="#222222", lw=0.9)
sns.scatterplot(data=traj, x="x", y="y", hue="type", palette=ggplot_colors, s=8, linewidth=0, ax=ax, legend=False)
sns.scatterplot(x=fork_x, y=fork_y, color="black", s=26, linewidth=0, ax=ax, legend=False, zorder=5)
for fx, fy, fid in zip(fork_x, fork_y, fork_id):
    ax.text(fx, fy, fid, color="white", fontsize=4.5, ha="center", va="center", zorder=6)
style_open(ax, [-4, -2, 0, 2], [-2, -1, 0, 1, 2], (-5.9, 3.83), (-2.88, 2.61), offset_y=True)

# D -----------------------------------------------------------------
ax = add_ax(70.3, 387.3, 314.3, 592.3)
sirpa = points_frame([sirpa_low, sirpa_mid, sirpa_high, sirpa_top, sirpa_dense])
sns.scatterplot(data=sirpa, x="x", y="y", hue="type", palette=ggplot_colors, s=4.5, linewidth=0, ax=ax, legend=False)
sns.lineplot(x=fit_time, y=fit_expr, color="#222222", lw=0.9, ax=ax, legend=False)
ax.set_yscale("log")
style_open(ax, [0, 2.5, 5, 7.5, 10], [0.3, 0.56, 1.0, 1.8, 3.0], (-0.53, 10.9), (0.147, 3.87))
ax.minorticks_off()
ax.set_xticklabels(["0.0", "2.5", "5.0", "7.5", "10.0"])
ax.set_yticklabels(["0.3", "", "1.0", "", "3.0"])


# E -----------------------------------------------------------------
def edge_bend(i, j):
    pair = {i, j}
    if pair in ({1, 2}, {4, 5}):
        return 0.14
    if abs(i - j) == 3 or pair in ({1, 5}, {2, 4}):
        return 0.13
    if pair in ({1, 3}, {0, 1}, {3, 4}, {0, 5}, {2, 3}):
        return 0.26
    return 0.19


def draw_network(cx, cy, rx, ry, matrix, node_sizes):
    size = 160
    ax = add_ax(cx - size, cy - size, cx + size, cy + size)
    ax.set_xlim(-size / rx, size / rx)
    ax.set_ylim(-size / ry, size / ry)
    ax.axis("off")
    angles = np.deg2rad([0, 60, 120, 180, 240, 300])
    nx, ny = np.cos(angles), np.sin(angles)
    for i in range(6):
        for j in range(6):
            value = matrix[i][j]
            if value == 0:
                continue
            lw = value * 0.33
            if i == j:
                # self loop leaves the node and comes back, pointing outward
                ox, oy = nx[i] * 0.48, ny[i] * 0.42
                sx, sy = -ny[i] * 0.24, nx[i] * 0.16
                px, py = nx[i], ny[i]
                verts = [(px, py), (px + ox + sx, py + oy + sy), (px + ox - sx, py + oy - sy), (px, py)]
                path = Path(verts, [Path.MOVETO, Path.CURVE4, Path.CURVE4, Path.CURVE4])
                ax.add_patch(PathPatch(path, fc="none", ec=cell_colors[i], lw=lw, alpha=0.55))
                continue
            arrow = FancyArrowPatch((nx[i], ny[i]), (nx[j], ny[j]), connectionstyle=f"arc3,rad={-edge_bend(i, j)}",
                                    arrowstyle="-|>,head_length=0.35,head_width=0.2", mutation_scale=6 + value * 0.5,
                                    lw=lw, color=cell_colors[i], alpha=0.6, shrinkA=0, shrinkB=1)
            ax.add_patch(arrow)
    ax.scatter(nx, ny, s=[(d * 0.72) ** 2 for d in node_sizes], c=cell_colors, linewidths=0, zorder=5)


draw_network(726.3, 500.5, 107.4, 125, count_matrix, node_size_left)
draw_network(1077.9, 498.3, 107.9, 125.9, weight_matrix, node_size_right)

# F -----------------------------------------------------------------
heat = pd.DataFrame(count_matrix, index=cell_short, columns=cell_short)
ax = add_ax(407, 698.3, 877, 984.3)
sns.heatmap(heat, cmap="Reds", vmin=0, vmax=19, mask=heat == 0, cbar=False, xticklabels=False, yticklabels=False, ax=ax)
ax.set_xlabel("")
ax.set_ylabel("")

strip = ListedColormap(cell_colors)
ax = add_ax(401, 698.3, 405.3, 984.3)
ax.imshow(np.arange(6).reshape(6, 1), cmap=strip, aspect="auto")
ax.axis("off")
ax = add_ax(407, 986, 877, 990.3)
ax.imshow(np.arange(6).reshape(1, 6), cmap=strip, aspect="auto")
ax.axis("off")

bars = pd.DataFrame({"cell": cell_short, "top": top_bar_values, "right": right_bar_values})
ax = add_ax(407, 678.3, 877, 697.5)
sns.barplot(data=bars, x="cell", y="top", hue="cell", palette=cell_colors, width=0.6, saturation=1, legend=False, ax=ax)
ax.set_xlim(-0.5, 5.5)
ax.set_ylim(0, 60)
ax.set_xticks([])
ax.set_yticks([0, 20, 40, 60])
ax.set_xlabel("")
ax.set_ylabel("")
sns.despine(ax=ax, bottom=True)
ax.tick_params(axis="y", left=True, labelsize=4, length=2, width=0.5, pad=1)
ax.spines["left"].set_linewidth(0.6)

ax = add_ax(879, 698.3, 903, 984.3)
sns.barplot(data=bars, y="cell", x="right", hue="cell", palette=cell_colors, width=0.6, saturation=1, legend=False, orient="h", ax=ax)
ax.set_ylim(5.5, -0.5)
ax.set_xlim(0, 80)
ax.set_yticks([])
ax.set_xticks([0, 20, 40, 60, 80])
ax.set_xlabel("")
ax.set_ylabel("")
sns.despine(ax=ax, left=True)
ax.tick_params(axis="x", bottom=True, labelsize=4, length=2, width=0.5, pad=1, labelrotation=90)
ax.spines["bottom"].set_linewidth(0.6)

ax = add_ax(911, 699, 917, 740.7)
ax.imshow(np.linspace(1, 0, 128).reshape(-1, 1), cmap="Reds", aspect="auto", extent=(0, 1, 0, 20))
ax.axis("off")

# G -----------------------------------------------------------------
col_labels = [f"{s} -> {r}" for s in senders for r in receivers]
dots = []
for row, probs in enumerate(pair_probs):
    for col, value in probs.items():
        dots.append((col, row, value, "small" if (row, col) in small_dots else "big"))
dots = pd.DataFrame(dots, columns=["col", "row", "prob", "pval"])
ax = add_ax(342, 1144.3, 982, 1456.7)
ax.grid(True, color="#f7f7f7", lw=0.6)
ax.set_axisbelow(True)
sns.scatterplot(data=dots, x="col", y="row", hue="prob", palette="Spectral_r", hue_norm=(0, 1), size="pval",
                sizes={"small": 9, "big": 24}, linewidth=0, legend=False, ax=ax, zorder=3)
ax.set_xlim(-0.58, 29.6)
ax.set_ylim(30.6, -0.6)
ax.set_xticks(range(30))
ax.set_xticklabels(col_labels, rotation=90, fontsize=7.4, color=INK)
ax.set_yticks(range(31))
ax.set_yticklabels(pair_names, fontsize=7.2, color=INK)
ax.set_xlabel("")
ax.set_ylabel("")
ax.tick_params(axis="x", direction="in", length=4, width=0.9, color=INK, pad=2.5, bottom=True)
ax.tick_params(axis="y", direction="in", length=4, width=0.9, color=INK, pad=3.5, left=True)
for spine in ax.spines.values():
    spine.set_linewidth(1.6)
    spine.set_color("#333333")
    spine.set_visible(True)

ax = add_ax(998, 1231, 1005.4, 1315.7)
ax.imshow(np.linspace(1, 0, 128).reshape(-1, 1), cmap="Spectral_r", aspect="auto")
ax.axis("off")

ax = add_ax(640.8, 79, 693, 94)
ax.imshow(np.linspace(0, 1, 128).reshape(1, -1), cmap=blues, aspect="auto")
ax.axis("off")

# free text and legends, placed in picture pixels ---------------------
ov = fig.add_axes([0, 0, 1, 1], facecolor="none")
ov.set_xlim(0, W)
ov.set_ylim(H, 0)
ov.axis("off")


def txt(x, y, s, size=9.2, ha="left", va="center", rotation=0, **kw):
    ov.text(x, y, s, fontsize=size, ha=ha, va=va, rotation=rotation, color=INK, **kw)


for letter, lx, ly in [("A", 21.6, 17), ("B", 437.6, 17), ("C", 877.4, 17), ("D", 21, 341),
                       ("E", 571, 355.7), ("F", 241, 666), ("G", 180.7, 1154)]:
    txt(lx, ly, letter, size=15, ha="center")

txt(210.6, 308, "tSNE_1", size=14.5, ha="center")
txt(25, 156.7, "tSNE_2", size=14.5, ha="center", rotation=90)
for i, name in enumerate(["0", "1", "2", "3"]):
    ly = [58, 71, 84.3, 97][i]
    ov.scatter([358.4], [ly], s=32, color=ggplot_colors[i], linewidths=0)
    txt(366.5, ly, name, size=9)

txt(649, 310.7, "Component 1", size=12.3, ha="center")
txt(441, 190.7, "Component 2", size=12.3, ha="center", rotation=90)
txt(579.6, 89.3, "Pseudotime", size=9)
for value, name in zip([0, 2.5, 5, 7.5, 10], ["0.0", "2.5", "5.0", "7.5", "10.0"]):
    txt(640.8 + value * 5.22, 100, name, size=7, ha="center")

txt(1089.5, 310.7, "Component 1", size=12.3, ha="center")
txt(880, 190.7, "Component 2", size=12.3, ha="center", rotation=90)
txt(937.8, 56.7, "Cell type", size=9)
for i, (dx, tx, ly) in enumerate([(942.6, 947, 74), (1081.4, 1087, 74), (942.6, 947, 88), (1081.4, 1087, 88)]):
    ov.scatter([dx - 1.5], [ly], s=32, color=ggplot_colors[i], linewidths=0)
    txt(tx + 1, ly, type_names[i], size=9.3)

txt(193, 384, "SIRPA", size=12, ha="center")
txt(193, 630, "Pseudo-time", size=14.8, ha="center")
txt(24, 489, "Relative expression", size=14.6, ha="center", rotation=90)
txt(315, 442.7, "Cell type", size=9)
for i, ly in enumerate([459, 472, 485, 497.7]):
    ov.scatter([319.3], [ly], s=32, color=ggplot_colors[i], linewidths=0)
    txt(326.7, ly, type_names[i])

txt(735.5, 339.3, "Number of interactions", size=13, ha="center")
txt(1093.8, 339.3, "Interaction weights/strength", size=13, ha="center")
net_left = [(834.7, 506.7), (779.7, 370), (659.4, 396), (602.6, 500), (657.5, 638.3), (793.5, 612.7)]
net_right = [(1173, 499), (1129, 366.7), (1017, 391.7), (985, 496.7), (1013, 633.3), (1145.5, 609)]
for name, a, b in zip(cell_labels, net_left, net_right):
    txt(a[0], a[1], name, size=12.5, ha="center")
    txt(b[0], b[1], name, size=12.5, ha="center")

txt(643.5, 665, "Number of interactions", size=13, ha="center")
txt(911, 686.7, "Number of interactions", size=9.3)
for tick, ly in zip(count_ticks, [700, 710.7, 721, 731, 741]):
    txt(922, ly, str(tick), size=7.5)
txt(247.5, 839, "Sources (sender)", size=14.7, ha="center", rotation=90)
for i, name in enumerate(cell_labels):
    txt(398.4, 698.3 + (i + 0.5) * 47.67, name, size=7.4, ha="right")
    txt(407 + (i + 0.5) * 78.33, 994, name, size=7.4, ha="center", va="top", rotation=90)

txt(997, 1221.7, "Commun. Prob.", size=9.5)
txt(1007.4, 1232.7, "Max", size=9.5)
txt(1007.4, 1313.7, "Min", size=9.5)
txt(997, 1341.7, "$\\mathit{P}$ value", size=9.5)
ov.scatter([1005.8], [1356.3], s=11, color="black", linewidths=0)
ov.scatter([1005.8], [1373.3], s=26, color="black", linewidths=0)
txt(1014.6, 1356.3, "0.01<$\\mathit{P}$<0.05", size=9.5)
txt(1014.6, 1374, "$\\mathit{P}$<0.01", size=9.5)

fig.savefig("out.png", dpi=100, facecolor="white")
